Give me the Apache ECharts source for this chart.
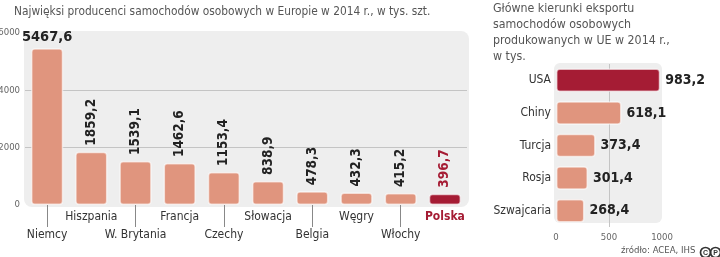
<!DOCTYPE html>
<html><head><meta charset="utf-8">
<script src="https://cdn.jsdelivr.net/npm/echarts@6/dist/echarts.min.js"></script>
<style>html,body{margin:0;padding:0;background:#fff;}#c{width:720px;height:257px;}</style>
</head><body><div id="c"></div>
<script>
const prodCategories = ['Niemcy','Hiszpania','W. Brytania','Francja','Czechy','Słowacja','Belgia','Węgry','Włochy','Polska'];
const prodValues = [5467.6, 1859.2, 1539.1, 1462.6, 1153.4, 838.9, 478.3, 432.3, 415.2, 396.7];
const prodTicks = [0, 2000, 4000, 6000];
const expCategories = ['USA','Chiny','Turcja','Rosja','Szwajcaria'];
const expValues = [983.2, 618.1, 373.4, 301.4, 268.4];
const expTicks = [0, 500, 1000];
const titleLeft = 'Najwięksi producenci samochodów osobowych w Europie w 2014 r., w tys. szt.';
const titleRight = 'Główne kierunki eksportu\nsamochodów osobowych\nprodukowanych w UE w 2014 r.,\nw tys.';
const source = 'źródło: ACEA, IHS';

const FONT = '"DejaVu Sans Condensed","Liberation Sans Narrow","Roboto",sans-serif';
const SALMON = '#e0957e';
const DARK = '#a51c34';
const fmt = v => String(v.toFixed(1)).replace('.', ',');

const chart = echarts.init(document.getElementById('c'));
const prodData = prodValues.map((v, i) => {
  const last = i === prodValues.length - 1;
  const d = { value: v, itemStyle: { color: last ? DARK : SALMON } };
  if (i === 0) d.label = { rotate: 0, align: 'center', verticalAlign: 'bottom', fontSize: 14.5, distance: 4 };
  if (last) d.label = { color: DARK };
  return d;
});
const expData = expValues.map((v, i) => ({ value: v, itemStyle: { color: i === 0 ? DARK : SALMON } }));

chart.setOption({
  animation: false,
  textStyle: { fontFamily: FONT },
  title: [
    { text: titleLeft, left: 14, top: 6, padding: 0, textStyle: { fontSize: 11.8, fontWeight: 'normal', color: '#555', fontFamily: FONT } },
    { text: titleRight, left: 493, top: 1, padding: 0, textStyle: { fontSize: 12.3, fontWeight: 'normal', color: '#555', lineHeight: 16, fontFamily: FONT } },
    { text: source, left: 621, top: 246, padding: 0, textStyle: { fontSize: 9.5, fontWeight: 'normal', color: '#555', fontFamily: FONT } }
  ],
  graphic: [
    { type: 'rect', left: 24, top: 31, shape: { width: 445, height: 176, r: 8 }, style: { fill: '#eeeeee' }, z: -1 },
    { type: 'rect', left: 554, top: 63, shape: { width: 108, height: 160, r: 6 }, style: { fill: '#eeeeee' }, z: -1 },
    { type: 'group', left: 698, top: 245, children: [
      { type: 'circle', shape: { cx: 5.5, cy: 5.5, r: 5 }, style: { fill: 'none', stroke: '#333', lineWidth: 1.7 } },
      { type: 'text', style: { text: 'C', x: 5.5, y: 6, align: 'center', verticalAlign: 'middle', font: 'bold 7px sans-serif', fill: '#333' } },
      { type: 'circle', shape: { cx: 15.5, cy: 5.5, r: 5 }, style: { fill: 'none', stroke: '#333', lineWidth: 1.7 } },
      { type: 'text', style: { text: 'P', x: 15.5, y: 6, align: 'center', verticalAlign: 'middle', font: 'bold 7px sans-serif', fill: '#333' } }
    ]}
  ],
  grid: [
    { left: 25, top: 33, width: 442, height: 172, outerBoundsMode: 'none', containLabel: false },
    { left: 556, top: 64, width: 106, height: 163, outerBoundsMode: 'none', containLabel: false }
  ],
  xAxis: [
    { gridIndex: 0, type: 'category', data: prodCategories,
      axisLine: { show: false },
      axisTick: { show: true, alignWithLabel: true, length: 22, interval: (i) => i % 2 === 0, lineStyle: { color: '#888' } },
      axisLabel: { interval: 0, margin: 3, fontSize: 12, color: '#333', fontFamily: FONT, lineHeight: 18,
        formatter: (v, i) => i === prodCategories.length - 1 ? '{p|' + v + '}' : (i % 2 === 0 ? '\n' + v : v),
        rich: { p: { color: DARK, fontWeight: 'bold', fontSize: 12, fontFamily: FONT } } } },
    { gridIndex: 1, type: 'value', min: expTicks[0], max: expTicks[expTicks.length - 1], interval: 500,
      axisLine: { show: false }, axisTick: { show: false },
      axisLabel: { fontSize: 9.5, color: '#666', margin: 6, fontFamily: FONT, formatter: v => String(v) },
      splitLine: { show: true, lineStyle: { color: ['transparent', '#c4c4c4', 'transparent'], width: 1 } } }
  ],
  yAxis: [
    { gridIndex: 0, type: 'value', min: prodTicks[0], max: prodTicks[prodTicks.length - 1], interval: 2000,
      axisLine: { show: false }, axisTick: { show: false },
      axisLabel: { fontSize: 9.5, color: '#666', margin: 5, fontFamily: FONT, formatter: v => String(v) },
      splitLine: { show: true, lineStyle: { color: ['transparent', '#c4c4c4', '#c4c4c4', 'transparent'], width: 1 } } },
    { gridIndex: 1, type: 'category', data: expCategories, inverse: true,
      axisLine: { show: false }, axisTick: { show: false },
      axisLabel: { fontSize: 12, color: '#333', margin: 5, fontFamily: FONT } }
  ],
  series: [
    { type: 'bar', xAxisIndex: 0, yAxisIndex: 0, data: prodData, barCategoryGap: '27%',
      itemStyle: { borderRadius: 3, borderColor: 'rgba(255,255,255,0.6)', borderWidth: 1.5 },
      label: { show: true, position: 'top', rotate: 90, align: 'left', verticalAlign: 'middle', distance: 6,
        fontSize: 13.5, fontWeight: 'bold', color: '#222', fontFamily: FONT, formatter: p => fmt(p.value) } },
    { type: 'bar', xAxisIndex: 1, yAxisIndex: 1, data: expData, barCategoryGap: '28%',
      itemStyle: { borderRadius: 3, borderColor: 'rgba(255,255,255,0.6)', borderWidth: 1.5 },
      label: { show: true, position: 'right', distance: 5, fontSize: 14, fontWeight: 'bold', color: '#222', fontFamily: FONT,
        formatter: p => fmt(p.value) } }
  ]
});
</script></body></html>
